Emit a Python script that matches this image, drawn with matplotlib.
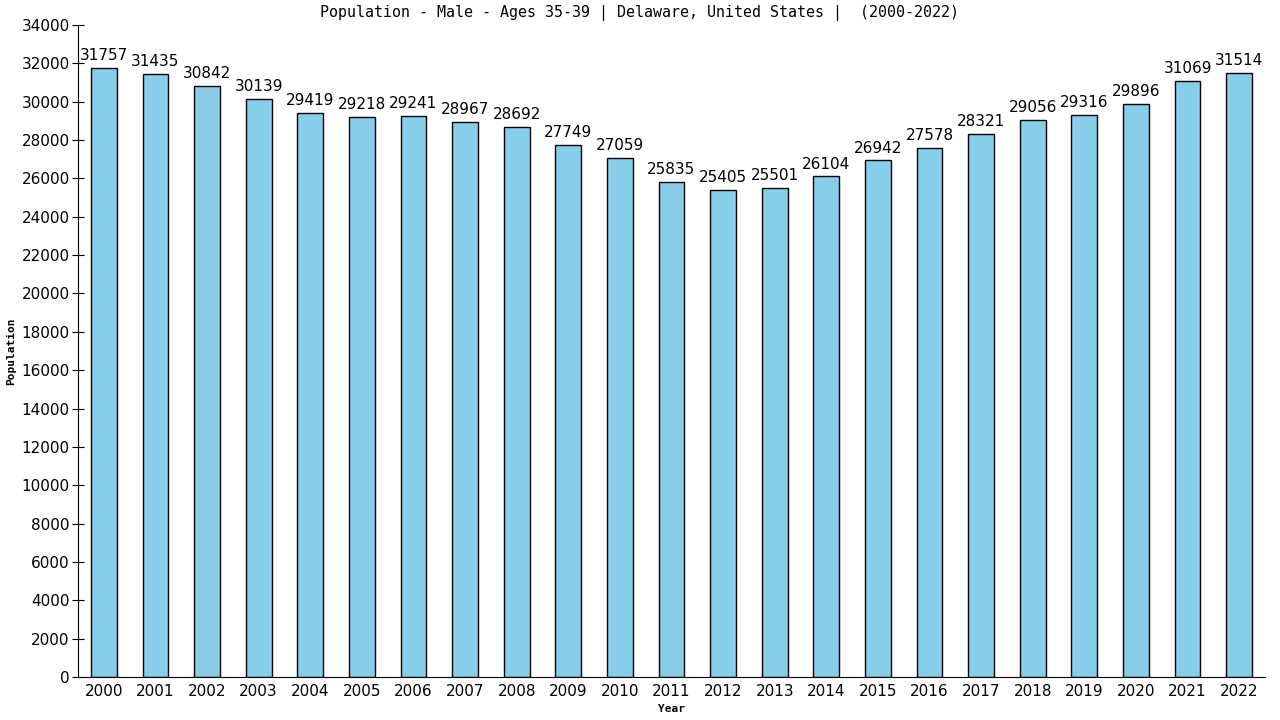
import matplotlib
matplotlib.use('Agg')
import matplotlib.pyplot as plt

# chart data
years = [str(y) for y in range(2000, 2023)]
population = [31757, 31435, 30842, 30139, 29419, 29218, 29241, 28967, 28692, 27749,
              27059, 25835, 25405, 25501, 26104, 26942, 27578, 28321, 29056, 29316,
              29896, 31069, 31514]
yticks = list(range(0, 34001, 2000))

plt.rcParams['font.family'] = ['DejaVu Sans']

fig = plt.figure(figsize=(12.8, 7.2), dpi=100)
ax = fig.add_axes([78 / 1280, 43 / 720, 1187 / 1280, 652 / 720])

pos = range(len(years))
ax.bar(pos, population, width=0.5, color='#87CEEB', edgecolor='black', linewidth=1)

for i, v in enumerate(population):
    ax.text(i, v + 250, str(v), ha='center', va='bottom', fontsize=11)

ax.set_xlim(-0.5, len(years) - 0.5)
ax.set_ylim(0, 34000)
ax.set_xticks(list(pos))
ax.set_xticklabels(years, fontsize=11)
ax.set_yticks(yticks)
ax.set_yticklabels([str(t) for t in yticks], fontsize=11)
ax.tick_params(axis='x', length=0, pad=5)
ax.tick_params(axis='y', direction='inout', length=8, pad=2)

for s in ['top', 'right']:
    ax.spines[s].set_visible(False)

ax.set_xlabel('Year', fontsize=8, fontweight='bold', family='DejaVu Sans Mono', labelpad=4)
ax.set_ylabel('Population', fontsize=8, fontweight='bold', family='DejaVu Sans Mono', labelpad=4)
fig.suptitle('Population - Male - Ages 35-39 | Delaware, United States |  (2000-2022)',
             fontsize=10.8, family='DejaVu Sans Mono', y=0.993)

fig.savefig('out.png', dpi=100)
